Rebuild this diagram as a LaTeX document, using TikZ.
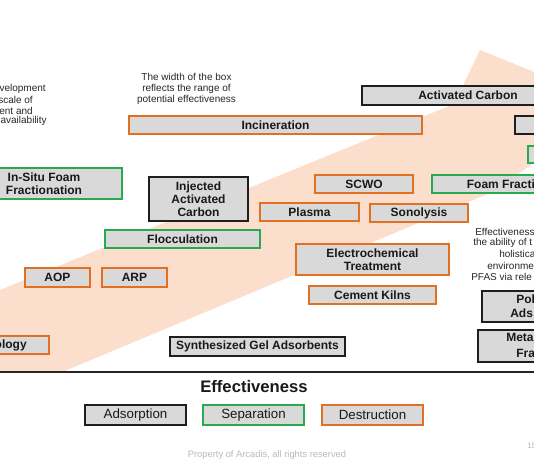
\documentclass[tikz,border=0pt]{standalone}
\usepackage{fontspec}
\setmainfont{Liberation Sans}
\definecolor{peach}{RGB}{251,222,204}
\definecolor{boxfill}{RGB}{217,217,217}
\definecolor{borA}{RGB}{30,30,30}
\definecolor{borS}{RGB}{40,170,80}
\definecolor{borD}{RGB}{225,112,35}
\definecolor{foot}{RGB}{185,185,185}
\tikzset{
  base/.style={rectangle, fill=boxfill, line width=1.9pt, inner sep=0pt, align=center,
    font=\fontsize{9}{9.75}\selectfont\bfseries, text=black!90},
  abox/.style={base, draw=borA},
  sbox/.style={base, draw=borS},
  dbox/.style={base, draw=borD},
  wh/.style 2 args={minimum width=#1*0.75pt, minimum height=#2*0.75pt},
  frag/.style={inner sep=0pt, font=\fontsize{9}{9.75}\selectfont\bfseries, text=black!90},
  note/.style={inner sep=0pt, font=\fontsize{7.5}{8.25}\selectfont, text=black!85},
  legend/.style={font=\fontsize{10}{12}\selectfont},
}
\begin{document}
\begin{tikzpicture}[x=0.75pt,y=-0.75pt]
\useasboundingbox (0,0) rectangle (534,462);
\clip (0,0) rectangle (534,462);
% background arrow
\begin{scope}
  \clip (0,0) rectangle (534,371);
  \fill[peach] (0,290) -- (454,104) -- (480,50) -- (618,106) -- (490,193) -- (0,398) -- cycle;
\end{scope}
% axis line
\coordinate (axL) at (0,372);
\coordinate (axR) at (534,372);
\draw[line width=1.6pt, black!85] (axL) -- (axR);

% notes
\node[note, align=center] (width) at (186.5,89) {The width of the box\\reflects the range of\\potential effectiveness};
\node[note, anchor=east] (l1) at (46,89) {velopment};
\node[note, anchor=east] (l2) at (33,100) {scale of};
\node[note, anchor=east] (l3) at (33,111) {ent and};
\node[note, anchor=east] (l4) at (47,121) {availability};
\node[note, anchor=west] (r1) at (475,232) {Effectiveness};
\node[note, anchor=west] (r2) at (473,243) {the ability of t};
\node[note, anchor=west] (r3) at (499,254) {holistica};
\node[note, anchor=west] (r4) at (487,266) {environme};
\node[note, anchor=west] (r5) at (471,277) {PFAS via rele};

% boxes
\node[abox, wh={212}{19}] (actc) at (468,95.5) {Activated Carbon};
\node[dbox, wh={293}{18}] (incin) at (275.5,125) {Incineration};
\node[abox, wh={104}{18}] (blk2) at (567,125) {};
\node[sbox, wh={91}{17}] (grn2) at (573.5,154.5) {};
\node[sbox, wh={156}{31}] (insitu) at (44,183.5) {In-Situ Foam\\Fractionation};
\node[abox, wh={99}{44}] (iac) at (198.5,199) {Injected\\Activated\\Carbon};
\node[dbox, wh={98}{18}] (scwo) at (364,184) {SCWO};
\node[sbox, wh={181}{18}] (foam) at (522.5,184) {Foam Fractionation};
\node[dbox, wh={99}{18}] (plasma) at (309.5,212) {Plasma};
\node[dbox, wh={98}{18}] (sono) at (419,213) {Sonolysis};
\node[sbox, wh={155}{18}] (floc) at (182.5,239) {Flocculation};
\node[dbox, wh={153}{31}] (echem) at (372.5,259.5) {Electrochemical\\Treatment};
\node[dbox, wh={65}{19}] (aop) at (57.5,277.5) {AOP};
\node[dbox, wh={65}{19}] (arp) at (134.5,277.5) {ARP};
\node[dbox, wh={127}{18}] (cement) at (372.5,295) {Cement Kilns};
\node[abox, wh={118}{31}] (poly) at (541,306.5) {};
\node[frag, anchor=west] (polyA) at (516,299) {Pol};
\node[frag, anchor=west] (polyB) at (510,313) {Ads};
\node[abox, wh={136}{32}] (metal) at (546,346) {};
\node[frag, anchor=west] (metalA) at (506,337) {Metal};
\node[frag, anchor=west] (metalB) at (516,353) {Fram};
\node[dbox, wh={148}{18}] (ology) at (-25,345) {};
\node[frag, anchor=east] (ologyT) at (27,345) {ology};
\node[abox, wh={175}{19}] (synth) at (257.5,346.5) {Synthesized Gel Adsorbents};

% title
\node[inner sep=0pt, font=\fontsize{12.5}{14}\selectfont\bfseries, text=black!90] (eff) at (254,387) {Effectiveness};

% legend
\node[abox, legend, wh={101}{20}] (lgA) at (135.5,415) {Adsorption};
\node[sbox, legend, wh={101}{20}] (lgS) at (253.5,415) {Separation};
\node[dbox, legend, wh={101}{20}] (lgD) at (372.5,415) {Destruction};

% footer
\node[inner sep=0pt, font=\fontsize{7}{8}\selectfont, text=foot] (foot) at (267,455) {Property of Arcadis, all rights reserved};
\node[inner sep=0pt, anchor=west, font=\fontsize{6}{7}\selectfont, text=foot] (page) at (527,446) {15};
\end{tikzpicture}
\end{document}
